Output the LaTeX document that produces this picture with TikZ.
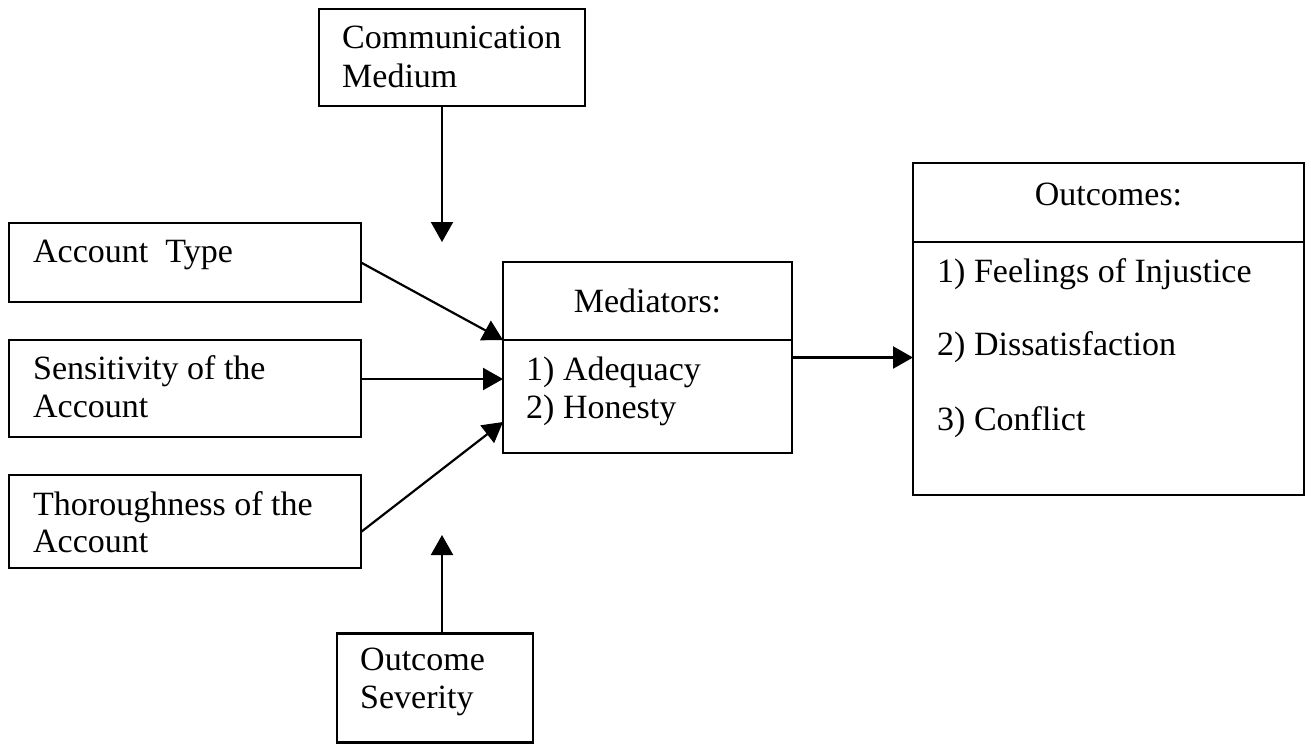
\documentclass[tikz,border=0pt]{standalone}
\usepackage{fontspec}
\setmainfont{Liberation Serif}
\usetikzlibrary{arrows.meta}
\begin{document}
\begin{tikzpicture}[x=1pt,y=-1pt,
  box/.style={draw, line width=2.6pt, inner sep=0pt, outer sep=0pt},
  lbl/.style={anchor=base west, inner sep=0pt, font=\fontsize{34}{39}\selectfont},
  ctr/.style={anchor=base, inner sep=0pt, font=\fontsize{34}{39}\selectfont},
  divider/.style={line width=2.6pt},
  conn/.style={line width=2.2pt, -{Triangle[length=20pt,width=22pt]}}]
\useasboundingbox (0,0) rectangle (1311,744);
% boxes
\node[box, minimum width=266pt, minimum height=97pt] (comm) at (452,57.5) {};
\node[box, minimum width=352pt, minimum height=79pt] (acct) at (185,262.5) {};
\node[box, minimum width=352pt, minimum height=97pt] (sens) at (185,388.5) {};
\node[box, minimum width=352pt, minimum height=93pt] (thor) at (185,521.5) {};
\node[box, minimum width=289pt, minimum height=191pt] (med) at (647.5,357.5) {};
\node[box, minimum width=391pt, minimum height=332pt] (out) at (1108.5,329) {};
\node[box, minimum width=196pt, minimum height=109pt] (sev) at (435,688) {};
% dividers
\coordinate (medsplitL) at (503,340);
\coordinate (medsplitR) at (792,340);
\draw[divider] (medsplitL) -- (medsplitR);
\coordinate (outsplitL) at (913,242);
\coordinate (outsplitR) at (1304,242);
\draw[divider] (outsplitL) -- (outsplitR);
% texts
\node[lbl] (commt1) at (342,48) {Communication};
\node[lbl] (commt2) at (342,87) {Medium};
\node[lbl] (acctt) at (33,262) {Account\ \ Type};
\node[lbl] (senst1) at (33,379) {Sensitivity of the};
\node[lbl] (senst2) at (33,417) {Account};
\node[lbl] (thort1) at (33,515) {Thoroughness of the};
\node[lbl] (thort2) at (33,552) {Account};
\node[ctr] (medt) at (647.5,312) {Mediators:};
\node[lbl] (medi1) at (526,380) {1) Adequacy};
\node[lbl] (medi2) at (526,418) {2) Honesty};
\node[ctr] (outt) at (1108.5,205) {Outcomes:};
\node[lbl] (outi1) at (937,282) {1) Feelings of Injustice};
\node[lbl] (outi2) at (937,355) {2) Dissatisfaction};
\node[lbl] (outi3) at (937,430) {3) Conflict};
\node[lbl] (sevt1) at (360,670) {Outcome};
\node[lbl] (sevt2) at (360,708) {Severity};
% connectors
\coordinate (medtop) at (442,242);
\coordinate (medbot) at (442,535);
\coordinate (sensA) at (361,379);
\coordinate (sensB) at (503,379);
\coordinate (thorA) at (361,532);
\coordinate (thorB) at (503,422);
\draw[conn] (comm.south -| medtop) -- (medtop);
\draw[conn] (sev.north -| medbot) -- (medbot);
\draw[conn] (acct.east) -- (medsplitL);
\draw[conn] (sensA) -- (sensB);
\draw[conn] (thorA) -- (thorB);
\draw[conn] (med.east) -- (med.east -| out.west);
\end{tikzpicture}
\end{document}
